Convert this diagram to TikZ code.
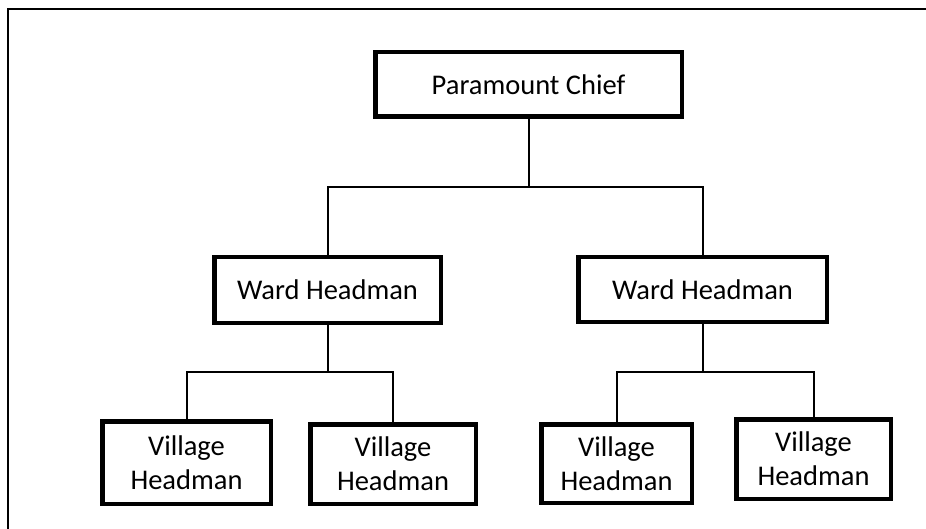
\documentclass[tikz,border=0pt]{standalone}
\usepackage{fontspec}
\setmainfont{Carlito}
\begin{document}
\begin{tikzpicture}[x=1pt,y={(0pt,-1pt)},
  box/.style={draw=black, line width=4.5pt, fill=white, inner sep=0pt,
    font=\fontsize{28.5}{34}\selectfont, align=center},
  link/.style={draw=black, line width=2pt}]
  \clip (0,0) rectangle (926,529);
  % outer frame, running past the right and bottom edges
  \draw[line width=2pt] (8,9) rectangle (945,545);

  % chief
  \node[box, minimum width=306.5pt, minimum height=64.5pt] (pc) at (528.5,84.5) {Paramount Chief};
  % ward headmen
  \node[box, minimum width=226.5pt, minimum height=65.5pt] (wl) at (327.5,290) {Ward Headman};
  \node[box, minimum width=248.5pt, minimum height=64.5pt] (wr) at (702.5,289.5) {Ward Headman};
  % village headmen
  \node[box, minimum width=168.5pt, minimum height=82.5pt] (v1) at (186.5,462.5) {Village\\Headman};
  \node[box, minimum width=165.5pt, minimum height=79.5pt] (v2) at (393,464) {Village\\Headman};
  \node[box, minimum width=150.5pt, minimum height=78.5pt] (v3) at (616.5,463.5) {Village\\Headman};
  \node[box, minimum width=154.5pt, minimum height=79.5pt] (v4) at (813.5,459) {Village\\Headman};

  % branch points
  \coordinate (b0) at (528.5,187);
  \coordinate (b1) at (327.5,372);
  \coordinate (b2) at (702.5,372);

  \draw[link] (pc.south) -- (b0) -| (wl.north);
  \draw[link] (b0) -| (wr.north);
  \draw[link] (wl.south) -- (b1) -| (v1.north);
  \draw[link] (b1) -| (v2.north);
  \draw[link] (wr.south) -- (b2) -| (v3.north);
  \draw[link] (b2) -| (v4.north);
\end{tikzpicture}
\end{document}
